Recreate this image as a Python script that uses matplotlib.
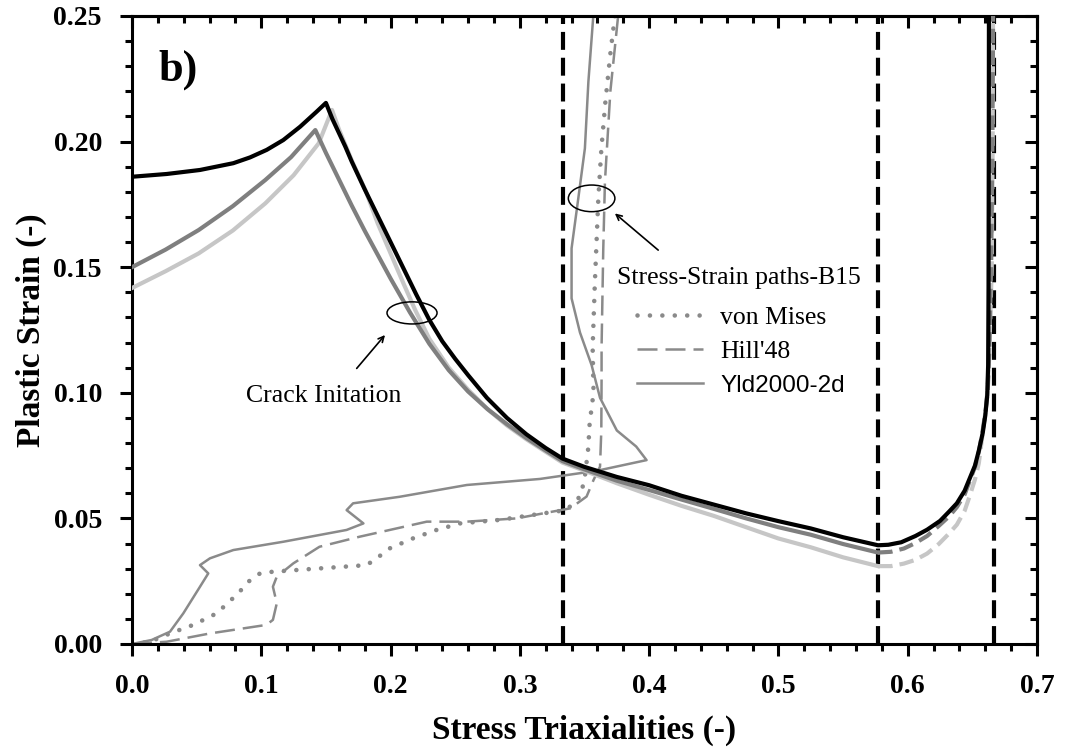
import matplotlib
matplotlib.use('Agg')
import matplotlib.pyplot as plt
from matplotlib.patches import Ellipse
from matplotlib.ticker import MultipleLocator, FormatStrFormatter

plt.rcParams['font.family'] = 'Liberation Serif'

# fracture loci (black, dark gray, light gray)
blk_x = [0.0, 0.0268, 0.0526, 0.0784, 0.0913, 0.1042, 0.117, 0.130, 0.1428, 0.150,
         0.155, 0.160, 0.165, 0.170, 0.180, 0.190, 0.200, 0.210, 0.220, 0.230, 0.240, 0.250,
         0.260, 0.2745, 0.290, 0.305, 0.320, 0.333, 0.350, 0.375, 0.400, 0.425, 0.450, 0.475,
         0.500, 0.525, 0.550, 0.577, 0.585, 0.595, 0.606, 0.615, 0.625, 0.632, 0.638, 0.644,
         0.648, 0.652, 0.655, 0.658, 0.660, 0.6615, 0.6622, 0.6625, 0.6627, 0.6628]
blk_y = [0.186, 0.1871, 0.1887, 0.1914, 0.1937, 0.1967, 0.2006, 0.2059, 0.2119, 0.2154,
         0.209, 0.2035, 0.198, 0.192, 0.181, 0.1705, 0.160, 0.1495, 0.139, 0.129, 0.1205, 0.1135,
         0.107, 0.098, 0.090, 0.0835, 0.078, 0.0738, 0.0705, 0.0665, 0.0632, 0.059, 0.0555, 0.052,
         0.0489, 0.046, 0.0425, 0.0393, 0.0395, 0.0405, 0.043, 0.0455, 0.049, 0.0527, 0.056, 0.061,
         0.066, 0.071, 0.077, 0.084, 0.091, 0.099, 0.111, 0.142, 0.200, 0.25]

dg_x = [0.0, 0.026, 0.0516, 0.078, 0.1031, 0.123, 0.1418, 0.150, 0.160, 0.170, 0.180, 0.190, 0.200,
        0.215, 0.230, 0.245, 0.260, 0.275, 0.290, 0.305, 0.320, 0.333, 0.350, 0.375, 0.400, 0.425,
        0.450, 0.475, 0.500, 0.525, 0.550, 0.577]
dg_y = [0.150, 0.157, 0.1648, 0.1743, 0.1847, 0.1938, 0.2046, 0.1955, 0.185, 0.1745, 0.1645, 0.155,
        0.1455, 0.132, 0.1195, 0.109, 0.1005, 0.0935, 0.0875, 0.082, 0.077, 0.0728, 0.0695, 0.065,
        0.0613, 0.0575, 0.0538, 0.050, 0.0465, 0.0435, 0.0398, 0.0364]
dg_dx = [0.577, 0.587, 0.597, 0.606, 0.615, 0.624, 0.632, 0.638, 0.644, 0.648, 0.652, 0.655, 0.658,
         0.660, 0.6618, 0.663, 0.6645, 0.6655, 0.666]
dg_dy = [0.0364, 0.0367, 0.038, 0.0402, 0.043, 0.047, 0.0508, 0.0545, 0.0595, 0.065, 0.0705, 0.0765, 0.085,
         0.092, 0.100, 0.115, 0.150, 0.200, 0.25]

lg_x = [0.0, 0.026, 0.0516, 0.078, 0.1031, 0.125, 0.1444, 0.1547, 0.160, 0.170, 0.1805, 0.190, 0.200,
        0.210, 0.219, 0.230, 0.245, 0.260, 0.275, 0.290, 0.305, 0.320, 0.333, 0.350, 0.375, 0.400,
        0.425, 0.450, 0.475, 0.500, 0.525, 0.550, 0.577]
lg_y = [0.1417, 0.1484, 0.1555, 0.1646, 0.1754, 0.1866, 0.1993, 0.2126, 0.205, 0.1925, 0.1807, 0.1675,
        0.1555, 0.1435, 0.133, 0.1215, 0.110, 0.1012, 0.0935, 0.087, 0.0815, 0.0765, 0.0722, 0.069,
        0.064, 0.0594, 0.055, 0.051, 0.0465, 0.042, 0.0385, 0.0345, 0.031]
lg_dx = [0.577, 0.587, 0.597, 0.606, 0.615, 0.624, 0.632, 0.638, 0.644, 0.648, 0.652, 0.655, 0.658,
         0.660, 0.6615, 0.663, 0.665, 0.6657, 0.666]
lg_dy = [0.031, 0.031, 0.032, 0.0335, 0.036, 0.0398, 0.044, 0.0475, 0.053, 0.059, 0.0655, 0.072, 0.084,
         0.092, 0.100, 0.115, 0.150, 0.200, 0.25]

# stress-strain paths B15
vm_x = [0.0, 0.0139, 0.0294, 0.0474, 0.0655, 0.0822, 0.090, 0.099, 0.1093, 0.1815, 0.1892, 0.1995,
        0.2176, 0.2356, 0.2537, 0.2846, 0.318, 0.336, 0.3465, 0.350, 0.3529, 0.354, 0.357, 0.3563,
        0.358, 0.3607, 0.363, 0.366, 0.370, 0.3735]
vm_y = [0.0, 0.0009, 0.0042, 0.0076, 0.0122, 0.0202, 0.0248, 0.0281, 0.0288, 0.0314, 0.0341, 0.0381,
        0.0421, 0.0454, 0.048, 0.0494, 0.052, 0.0533, 0.0587, 0.0653, 0.078, 0.088, 0.100, 0.118,
        0.1436, 0.1774, 0.1967, 0.215, 0.235, 0.25]

hill_x = [0.0, 0.0268, 0.0603, 0.104, 0.109, 0.112, 0.109, 0.112, 0.1248, 0.145, 0.176, 0.228, 0.259,
          0.2975, 0.318, 0.339, 0.3516, 0.357, 0.362, 0.363, 0.3632, 0.3632, 0.3645, 0.3658, 0.370, 0.376]
hill_y = [0.0, 0.0009, 0.0042, 0.0076, 0.0096, 0.0162, 0.0228, 0.0268, 0.0321, 0.0387, 0.0427, 0.0487,
          0.0487, 0.050, 0.052, 0.054, 0.0587, 0.0653, 0.0706, 0.085, 0.105, 0.118, 0.157, 0.184, 0.220, 0.25]

yld_x = [0.0, 0.0152, 0.0294, 0.0397, 0.0526, 0.059, 0.0526, 0.0603, 0.0784, 0.117, 0.166, 0.179,
         0.166, 0.171, 0.207, 0.259, 0.3155, 0.360, 0.398, 0.390, 0.375, 0.362, 0.3555, 0.3465,
         0.340, 0.340, 0.3452, 0.3503, 0.353, 0.3568]
yld_y = [0.0, 0.0016, 0.0049, 0.0122, 0.0228, 0.0281, 0.0314, 0.0341, 0.0374, 0.0407, 0.0454, 0.048,
         0.0533, 0.056, 0.0586, 0.0633, 0.0657, 0.069, 0.0732, 0.0786, 0.085, 0.098, 0.111, 0.124,
         0.1376, 0.1575, 0.1774, 0.1973, 0.2238, 0.25]

triax_ref = [0.333, 0.577, 0.667]

path_color = '#8a8a8a'
dark_gray = '#7f7f7f'
light_gray = '#c6c6c6'

fig = plt.figure(figsize=(10.67, 7.54), dpi=100)
ax = fig.add_axes([0.1237, 0.1459, 0.8482, 0.8329])

for xv in triax_ref:
    ax.axvline(xv, color='black', lw=3, dashes=(4.3, 1.9), zorder=1)

ax.plot(lg_x, lg_y, color=light_gray, lw=3, solid_joinstyle='round', zorder=3)
ax.plot(lg_dx, lg_dy, color=light_gray, lw=3, dashes=(3.5, 1.7), zorder=3)
ax.plot(dg_x, dg_y, color=dark_gray, lw=3, solid_joinstyle='round', zorder=4)
ax.plot(dg_dx, dg_dy, color=dark_gray, lw=3, dashes=(3.5, 1.7), zorder=4)
ax.plot(blk_x, blk_y, color='black', lw=3, solid_joinstyle='round', zorder=5)

vm_line, = ax.plot(vm_x, vm_y, color=path_color, lw=3.3, linestyle=(0, (0.01, 2.7)),
                   dash_capstyle='round', zorder=2)
hill_line, = ax.plot(hill_x, hill_y, color=path_color, lw=1.8, dashes=(8, 3.2), zorder=2)
yld_line, = ax.plot(yld_x, yld_y, color=path_color, lw=1.8, zorder=2)

# ellipses and arrows marking the points of interest
ax.add_patch(Ellipse((0.2166, 0.1318), 0.0387, 0.0088, fill=False, ec='black', lw=1.1, zorder=6))
ax.add_patch(Ellipse((0.3555, 0.1774), 0.036, 0.0106, fill=False, ec='black', lw=1.1, zorder=6))
arrow_kw = dict(arrowstyle='->', color='black', lw=1.2, shrinkA=0, shrinkB=0)
ax.annotate('', xy=(0.1957, 0.1230), xytext=(0.1738, 0.1097), arrowprops=arrow_kw)
ax.annotate('', xy=(0.3735, 0.1714), xytext=(0.407, 0.1568), arrowprops=arrow_kw)
ax.text(0.1485, 0.0987, 'Crack Initation', fontsize=18.5, ha='center', va='center')
ax.text(0.0201, 0.2245, 'b)', fontsize=32, fontweight='bold', ha='left', va='baseline')
ax.text(0.375, 0.1457, 'Stress-Strain paths-B15', fontsize=18.5, ha='left', va='center')

leg = ax.legend([vm_line, hill_line, yld_line], ['von Mises', "Hill'48", 'Yld2000-2d'],
                loc='upper left', bbox_to_anchor=(0.3903, 0.1345), bbox_transform=ax.transData,
                frameon=False, fontsize=18.5, handlelength=2.6, handletextpad=0.65,
                labelspacing=0.42, borderpad=0, borderaxespad=0)
leg.get_texts()[2].set_fontfamily('Liberation Sans')
leg.get_texts()[2].set_fontsize(17.5)

ax.set_xlim(0, 0.7)
ax.set_ylim(0, 0.25)
ax.xaxis.set_major_locator(MultipleLocator(0.1))
ax.xaxis.set_minor_locator(MultipleLocator(0.02))
ax.yaxis.set_major_locator(MultipleLocator(0.05))
ax.yaxis.set_minor_locator(MultipleLocator(0.01))
ax.xaxis.set_major_formatter(FormatStrFormatter('%.1f'))
ax.yaxis.set_major_formatter(FormatStrFormatter('%.2f'))
ax.tick_params(which='both', direction='out', top=False, right=False, width=2.2)
ax.tick_params(which='major', length=8.6, labelsize=20, pad=13)
ax.tick_params(which='minor', length=5)
for lab in ax.get_xticklabels() + ax.get_yticklabels():
    lab.set_fontweight('bold')

# inward ticks on top and right
secx = ax.secondary_xaxis('top')
secx.xaxis.set_major_locator(MultipleLocator(0.1))
secx.xaxis.set_minor_locator(MultipleLocator(0.02))
secx.tick_params(which='both', direction='in', width=2.2, labeltop=False)
secx.tick_params(which='major', length=8.6)
secx.tick_params(which='minor', length=5)
secy = ax.secondary_yaxis('right')
secy.yaxis.set_major_locator(MultipleLocator(0.05))
secy.yaxis.set_minor_locator(MultipleLocator(0.01))
secy.tick_params(which='both', direction='in', width=2.2, labelright=False)
secy.tick_params(which='major', length=8.6)
secy.tick_params(which='minor', length=5)
for a in (ax, secx, secy):
    for s in a.spines.values():
        s.set_linewidth(2.2)

ax.set_xlabel('Stress Triaxialities (-)', fontsize=24, fontweight='bold', labelpad=11)
ax.set_ylabel('Plastic Strain (-)', fontsize=24, fontweight='bold', labelpad=5)

fig.savefig('out.png', dpi=100)
